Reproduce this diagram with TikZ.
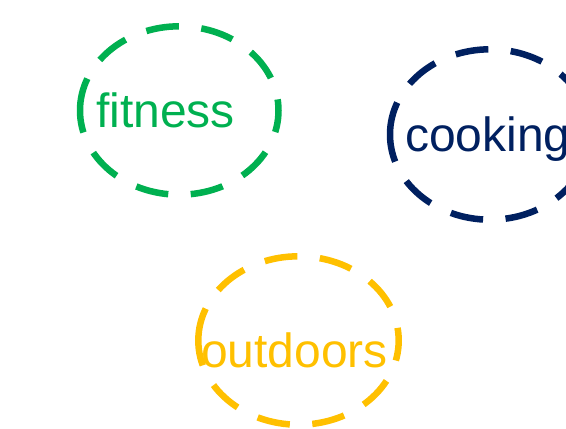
\documentclass[tikz,border=0pt]{standalone}
\usepackage{fontspec}
\setmainfont{Liberation Sans}
\definecolor{cgreen}{HTML}{00B050}
\definecolor{cnavy}{HTML}{002060}
\definecolor{cyellow}{HTML}{FFC000}
\tikzset{
  ring/.style={draw=#1, line width=6.5pt, dash pattern=on 33pt off 22.5pt},
  word/.style={text=#1, anchor=base west, inner sep=0pt, font=\fontsize{48pt}{56pt}\selectfont}
}
\begin{document}
\begin{tikzpicture}[x=1pt,y=-1pt]
\useasboundingbox (0,0) rectangle (566,429);
\clip (0,0) rectangle (566,429);
% fitness ring, path starts at its left point and runs over the top
\coordinate (fitc) at (179.25,110.5);
\draw[ring=cgreen] ([xshift=-99.25pt]fitc) arc[start angle=180, end angle=540, x radius=99.25, y radius=84.2];
% cooking ring
\coordinate (cookc) at (490,134.5);
\draw[ring=cnavy] ([xshift=-100pt]cookc) arc[start angle=180, end angle=540, x radius=100, y radius=85.2];
% outdoors ring
\coordinate (outc) at (298.5,340.5);
\draw[ring=cyellow] ([xshift=-100.2pt]outc) arc[start angle=180, end angle=540, x radius=100.2, y radius=84.2];
\node[word=cgreen] (fit) at (96,127) {fitness};
\node[word=cnavy] (cook) at (405,151) {cooking};
\node[word=cyellow] (out) at (201,367) {outdoors};
\end{tikzpicture}
\end{document}
